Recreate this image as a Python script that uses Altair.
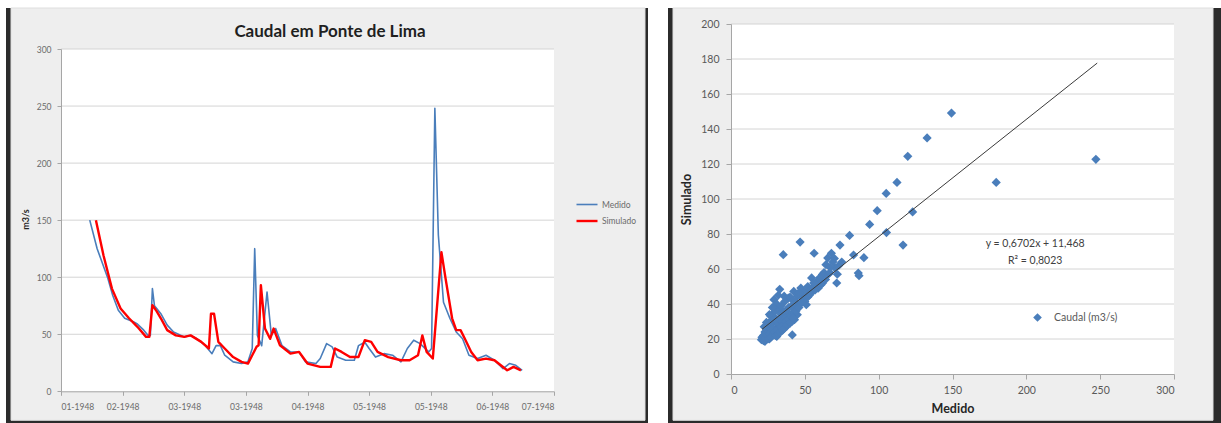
import altair as alt
import pandas as pd

# ---------------- data ----------------
tick_days = [0, 30, 60, 90, 120, 150, 180, 210, 240]
tick_labels = ['01-1948', '02-1948', '03-1948', '03-1948', '04-1948',
               '05-1948', '05-1948', '06-1948', '07-1948']
left_y_ticks = [0, 50, 100, 150, 200, 250, 300]
series_names = ['Medido', 'Simulado']
left_title = 'Caudal em Ponte de Lima'

medido_day = [14, 17.6, 22.8, 25.2, 27.9, 31, 35.2, 37.2, 40.3, 42.4, 43.5, 44.5, 45.5,
              46.6, 48.6, 51.7, 54.8, 60, 63.1, 66.2, 70.3, 73.5, 75.5, 77.6, 79.7, 83.8,
              87.9, 91, 93.1, 94.3, 95.6, 97.7, 100.3, 102.4, 104.5, 107.6, 111.7, 115.9,
              119, 124.1, 126.2, 129.3, 132, 134.5, 138.6, 142.8, 144.8, 147.9, 150, 153.1,
              157.3, 161.4, 165.5, 168.6, 171.7, 174.8, 179, 180.4, 182, 183.7, 186.2,
              189.3, 192.4, 195.5, 198.6, 202.8, 206.9, 211, 215.2, 218.3, 221.4, 224.5]
medido_val = [150, 125, 99, 84, 71, 64, 61, 59, 53.6, 49, 49, 90, 75,
              72.6, 68, 58, 52, 47.7, 49, 46, 40, 33, 40, 40, 31.6, 25.8,
              24.3, 25.8, 37.5, 125, 49, 40, 87, 49, 55, 40, 34.5, 34.5,
              25.8, 24.3, 28.7, 41.8, 38.9, 30, 27.2, 27.2, 40, 43, 37.5, 30,
              33, 31.6, 25.8, 37.5, 44.8, 41.8, 34.5, 37.5, 248, 137, 78,
              64, 52, 46, 31.6, 28.7, 31.6, 27.2, 19.9, 24.3, 22.8, 18.4]

sim_day = [17, 20.7, 24.8, 29, 33.1, 37.2, 41.4, 43, 44.5, 46.6, 48.6, 51.7, 55.9, 60,
           63.1, 68.3, 72, 73, 74.5, 76.6, 79.7, 83.8, 87.9, 91, 93.1, 95.2, 96.2, 97.3,
           99.3, 101.8, 103.5, 106.6, 111.7, 115.9, 120, 126.2, 131.3, 133.4, 136.6,
           140.7, 144.8, 147.9, 151, 154.1, 159.3, 165.5, 169.7, 173.8, 175.9, 178, 181,
           185.2, 187.2, 190.4, 192.4, 194.5, 196.6, 199.7, 202.8, 206.9, 211, 214.1,
           217.2, 220.3, 223.9]
sim_val = [150, 119, 90, 72.6, 64, 56.5, 47.7, 47.7, 75.5, 70, 64, 53.6, 49, 47.7,
           49, 43.3, 37.5, 68, 68, 43.3, 37.5, 30, 25.8, 24.3, 31.6, 39, 40.4, 93,
           55, 46, 55, 40.4, 33, 34.5, 24.3, 21.4, 21.4, 37.5, 34.5,
           30, 30, 44.8, 43.3, 34.5, 30, 27.2, 27.2, 31.6, 49, 34.5, 28.7,
           122, 99, 64, 53.6, 53.6, 46, 34.5, 27.2, 28.7, 27.2, 22.8,
           18.4, 21.4, 18.4]

right_x_ticks = [0, 50, 100, 150, 200, 250, 300]
right_y_ticks = [0, 20, 40, 60, 80, 100, 120, 140, 160, 180, 200]
scatter_name = 'Caudal (m3/s)'

scatter_medido = [149.3, 132.8, 119.7, 247.1, 112.4, 179.6, 105.1, 99, 123, 93.9, 105.3, 80.3,
                  116.5, 73.8, 46.8, 35.4, 56.3, 83, 90, 86.2, 86.7, 41.5, 33, 51,
                  70.4, 71.6, 65.5, 68, 64.3, 61.9, 58.3, 54.6, 53.4, 72, 69, 67, 63, 60, 57,
                  66, 62, 59, 73, 70, 75,
                  48.5, 44.9, 42.5, 47.3, 38.8, 36.4, 50, 52, 46, 44, 49, 53, 55, 56, 45, 47,
                  43, 41, 40, 42, 39, 37, 50,
                  29.1, 31.6, 34, 26.7, 24.3, 21.8, 20.6, 23, 29.1, 34, 37.6, 41.3, 44.9, 38.8,
                  26.7, 31.6, 22, 23, 24, 25, 25, 26, 27, 28, 28, 30, 30, 31, 32, 33, 33, 35,
                  35, 36, 37, 38, 39, 40, 42, 43, 27, 29, 31, 32, 34, 36, 24, 22.5, 26, 28,
                  21, 22, 23, 24, 25, 26, 27, 28, 29, 30, 31, 32, 33, 34, 35, 36, 37, 38,
                  39, 40, 41, 42, 44, 46, 48, 52, 54, 57, 61, 64, 67]
scatter_simulado = [149.1, 134.9, 124.4, 122.7, 109.5, 109.5, 103.2, 93.3, 92.6, 85.5, 80.8, 79.2,
                    73.7, 73.7, 75.4, 68.2, 69, 68, 66.5, 57.7, 56.2, 22.3, 48.4, 39.6,
                    60.6, 52, 66.3, 69, 62.5, 56.8, 53, 54.9, 48.2, 57, 64, 61, 58, 55, 51,
                    57, 52, 49, 62, 66, 64,
                    45.3, 44.4, 47.2, 49.1, 43.4, 41.5, 47, 50, 46.5, 41, 43, 45, 49, 52, 38, 40,
                    37, 39, 44, 42, 38, 36, 41.5,
                    42.5, 36.8, 33.9, 30.1, 26.3, 20.6, 19.6, 18.7, 22.5, 24.4, 27.2, 30.1, 33.9, 33.9,
                    24.4, 27.2, 22, 24, 21, 23, 28, 20, 26, 22, 29, 25, 32, 21.5, 29, 26, 31, 30,
                    36, 28, 32, 30, 35, 33, 35, 31, 33, 35, 40, 45, 39, 44.5, 29.5, 27, 34, 38,
                    21, 19, 20.5, 22.5, 20, 23, 21, 26, 24, 22, 25, 23, 24, 27, 25, 26, 30, 28,
                    31, 29, 33, 32, 36, 38, 41, 44, 46, 48, 51, 54, 58]

trend_slope = 0.6702
trend_intercept = 11.468
trend_x = [21, 248]
eq_lines = ['y = 0,6702x + 11,468', 'R² = 0,8023']
eq_x = [206, 206]
eq_y = [74.5, 64.4]

# ---------------- tables ----------------
ts = pd.concat([
    pd.DataFrame({'day': medido_day, 'val': medido_val, 'serie': series_names[0]}),
    pd.DataFrame({'day': sim_day, 'val': sim_val, 'serie': series_names[1]}),
], ignore_index=True)
left_grid = pd.DataFrame({'val': left_y_ticks[1:]})
sc = pd.DataFrame({'med': scatter_medido, 'sim': scatter_simulado, 'caudal': scatter_name})
trend = pd.DataFrame({'med': trend_x, 'sim': [trend_slope * v + trend_intercept for v in trend_x]})
right_grid = pd.DataFrame({'sim': right_y_ticks[1:]})
eq = pd.DataFrame({'med': eq_x, 'sim': eq_y, 'txt': eq_lines})
one = pd.DataFrame({'a': [1]})

FONT = 'Lato'
LW, LH = 493, 367.3   # left view (plot starts 25px below view top)
RW, RH = 443, 350

# ---------------- left chart ----------------
lx_scale = alt.Scale(domain=[0, 240])
ly_scale = alt.Scale(domain=[0, 300], range=[LH, 25])
label_expr = '[' + ','.join("'%s'" % t for t in tick_labels) + '][round(datum.value/30)]'
lx_axis = alt.Axis(values=tick_days, labelExpr=label_expr, grid=False, title=None,
                   labelFontSize=8.5, labelColor='#6b6b6b', tickSize=4, labelPadding=7,
                   domainColor='#a6a6a6', tickColor='#a6a6a6', zindex=1)
ly_axis = alt.Axis(values=left_y_ticks, grid=False, title='m3/s', titleFontSize=9,
                   titleFontWeight='bold', titleColor='#262626', titleX=-36, titleY=195,
                   titleAngle=270, titleAlign='center', titleBaseline='middle',
                   labelFontSize=8.5, labelColor='#6b6b6b', tickSize=4, labelPadding=6,
                   domainColor='#a6a6a6', tickColor='#a6a6a6', zindex=1)

l_dark = alt.Chart(one).mark_rect(color='#2b2b2b').encode(
    x=alt.value(-55), x2=alt.value(587), y=alt.value(-16), y2=alt.value(401))
l_gray = alt.Chart(one).mark_rect(color='#eeeeee', stroke='#dedede', strokeWidth=1).encode(
    x=alt.value(-50), x2=alt.value(584), y=alt.value(-16), y2=alt.value(396.3))
l_white = alt.Chart(one).mark_rect(color='white').encode(
    x=alt.value(0), x2=alt.value(LW), y=alt.value(25), y2=alt.value(LH))
l_grid = alt.Chart(left_grid).mark_rule(color='#d4d4d4', strokeWidth=1).encode(
    y=alt.Y('val:Q', scale=ly_scale, axis=ly_axis), x=alt.value(0), x2=alt.value(LW))
l_lines = alt.Chart(ts).mark_line(strokeJoin='round').encode(
    x=alt.X('day:Q', scale=lx_scale, axis=lx_axis),
    y=alt.Y('val:Q', scale=ly_scale, axis=ly_axis),
    color=alt.Color('serie:N', scale=alt.Scale(domain=series_names, range=['#4A7EBB', '#FF0000']),
                    legend=alt.Legend(orient='none', legendX=514, legendY=169, title=None,
                                      symbolType='stroke', symbolSize=441, rowPadding=0,
                                      padding=0, labelOffset=3, labelFontSize=8.5,
                                      labelColor='#6b6b6b', symbolStrokeWidth=2)),
    strokeWidth=alt.StrokeWidth('serie:N', scale=alt.Scale(domain=series_names, range=[1.6, 2.4]),
                                legend=None),
    detail='serie:N')
l_title = alt.Chart(one).mark_text(font=FONT, fontSize=17, fontWeight='bold', color='#1f1f1f',
                                   baseline='middle').encode(
    x=alt.value(269), y=alt.value(7.5), text=alt.value(left_title))

left = alt.layer(l_dark, l_gray, l_white, l_grid, l_lines, l_title).properties(width=LW, height=LH)

# ---------------- right chart ----------------
rx_scale = alt.Scale(domain=[0, 300])
ry_scale = alt.Scale(domain=[0, 200])
rx_axis = alt.Axis(values=right_x_ticks, grid=False, title='Medido', titleFontSize=12.5,
                   titleFontWeight='bold', titleColor='#262626', titleX=RW / 2, titleY=34,
                   titleAlign='center', titleBaseline='middle',
                   labelFontSize=10.5, labelColor='#595959', tickSize=5, labelPadding=6,
                   domainColor='#a6a6a6', tickColor='#a6a6a6', zindex=1)
ry_axis = alt.Axis(values=right_y_ticks, grid=False, title='Simulado', titleFontSize=12.5,
                   titleFontWeight='bold', titleColor='#262626', titleX=-45, titleY=RH / 2,
                   titleAngle=270, titleAlign='center', titleBaseline='middle',
                   labelFontSize=10.5, labelColor='#595959', tickSize=5, labelPadding=7,
                   domainColor='#a6a6a6', tickColor='#a6a6a6', zindex=1)

r_dark = alt.Chart(one).mark_rect(color='#2b2b2b').encode(
    x=alt.value(-63), x2=alt.value(490), y=alt.value(-16), y2=alt.value(401))
r_gray = alt.Chart(one).mark_rect(color='#eeeeee', stroke='#dedede', strokeWidth=1).encode(
    x=alt.value(-58), x2=alt.value(482), y=alt.value(-16), y2=alt.value(396.3))
r_white = alt.Chart(one).mark_rect(color='white').encode(
    x=alt.value(0), x2=alt.value(RW), y=alt.value(0), y2=alt.value(RH))
r_grid = alt.Chart(right_grid).mark_rule(color='#d4d4d4', strokeWidth=1).encode(
    y=alt.Y('sim:Q', scale=ry_scale, axis=ry_axis), x=alt.value(0), x2=alt.value(RW))
r_points = alt.Chart(sc).mark_point(shape='diamond', filled=True, size=85, opacity=1).encode(
    x=alt.X('med:Q', scale=rx_scale, axis=rx_axis),
    y=alt.Y('sim:Q', scale=ry_scale, axis=ry_axis),
    fill=alt.Fill('caudal:N', scale=alt.Scale(domain=[scatter_name], range=['#4A7EBB']),
                  legend=alt.Legend(orient='none', legendX=301, legendY=288, title=None,
                                    symbolType='diamond', symbolSize=75, padding=0,
                                    labelOffset=11, labelFontSize=10.5, labelColor='#595959')))
r_trend = alt.Chart(trend).mark_line(color='#3a3a3a', strokeWidth=1).encode(
    x=alt.X('med:Q', scale=rx_scale, axis=rx_axis),
    y=alt.Y('sim:Q', scale=ry_scale, axis=ry_axis))
r_eq = alt.Chart(eq).mark_text(font=FONT, fontSize=10.5, color='#404040', align='center',
                               baseline='middle').encode(
    x=alt.X('med:Q', scale=rx_scale, axis=rx_axis),
    y=alt.Y('sim:Q', scale=ry_scale, axis=ry_axis),
    text='txt:N')

right = alt.layer(r_dark, r_gray, r_white, r_grid, r_points, r_trend, r_eq).properties(
    width=RW, height=RH)

chart = alt.hconcat(left, right, spacing=177, bounds='flush').resolve_scale(
    color='independent', fill='independent', strokeWidth='independent'
).resolve_legend(color='independent', fill='independent').properties(
    padding={'left': 6, 'top': 7, 'right': 0, 'bottom': 0}
).configure(font=FONT).configure_view(strokeWidth=0)

chart.save('out.html', embed_options={'renderer': 'svg', 'actions': False})
